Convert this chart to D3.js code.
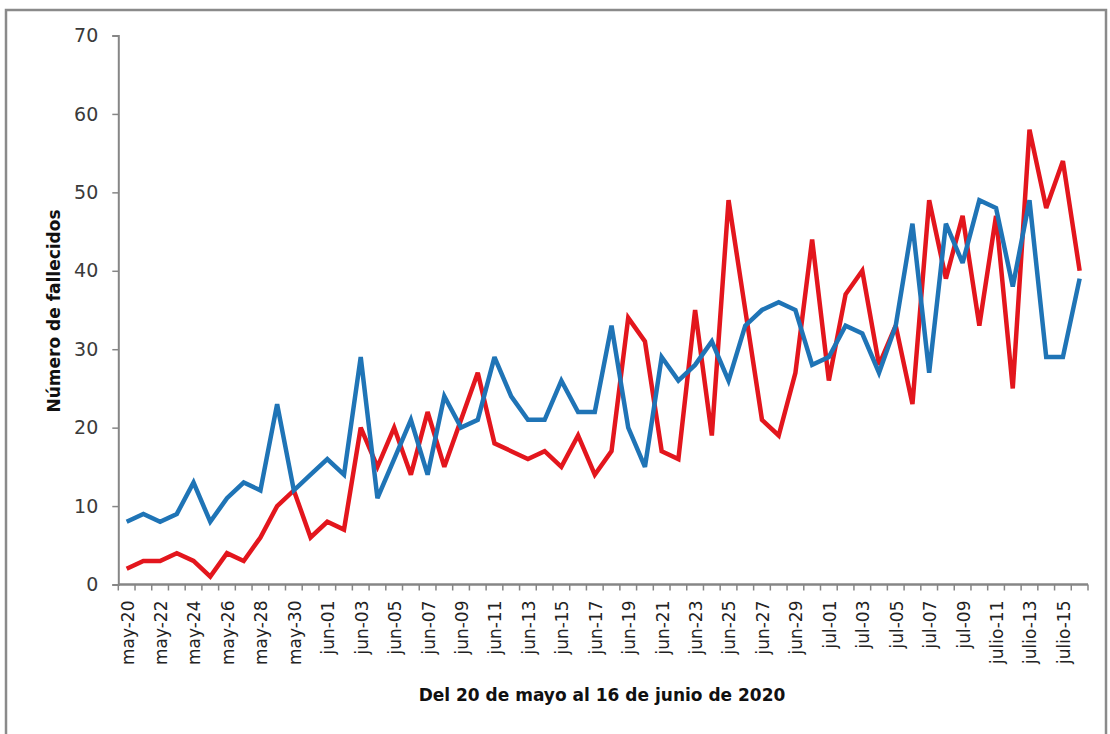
<!DOCTYPE html>
<html>
<head>
<meta charset="utf-8">
<script src="https://cdn.jsdelivr.net/npm/d3@7"></script>
<style>
  html, body { margin: 0; padding: 0; background: #ffffff; }
  svg { display: block; }
</style>
</head>
<body>
<svg id="chart" width="1110" height="734"></svg>
<script>
// ---- Data ----
const categories = [
  "may-20","may-21","may-22","may-23","may-24","may-25","may-26","may-27","may-28","may-29","may-30","may-31",
  "jun-01","jun-02","jun-03","jun-04","jun-05","jun-06","jun-07","jun-08","jun-09","jun-10",
  "jun-11","jun-12","jun-13","jun-14","jun-15","jun-16","jun-17","jun-18","jun-19","jun-20",
  "jun-21","jun-22","jun-23","jun-24","jun-25","jun-26","jun-27","jun-28","jun-29","jun-30",
  "jul-01","jul-02","jul-03","jul-04","jul-05","jul-06","jul-07","jul-08","jul-09","jul-10",
  "julio-11","julio-12","julio-13","julio-14","julio-15","julio-16"
];
const seriesRed = [
  2,3,3,4,3,1,4,3,6,10,
  12,6,8,7,20,15,20,14,22,15,
  21,27,18,17,16,17,15,19,14,17,
  34,31,17,16,35,19,49,35,21,19,
  27,44,26,37,40,28,33,23,49,39,
  47,33,47,25,58,48,54,40
];
const seriesBlue = [
  8,9,8,9,13,8,11,13,12,23,
  12,14,16,14,29,11,16,21,14,24,
  20,21,29,24,21,21,26,22,22,33,
  20,15,29,26,28,31,26,33,35,36,
  35,28,29,33,32,27,33,46,27,46,
  41,49,48,38,49,29,29,39
];
const yTicks = [0,10,20,30,40,50,60,70];
const yTitle = "Número de fallecidos";
const xTitle = "Del 20 de mayo al 16 de junio de 2020";

// ---- Layout ----
const svg = d3.select("#chart");
const plot = { left: 118.3, right: 1088, top: 35.5, bottom: 584.5 };
const axisColor = "#868686";

// outer frame
svg.append("rect")
  .attr("x", 6).attr("y", 10).attr("width", 1100).attr("height", 740)
  .attr("fill", "#ffffff").attr("stroke", "#8a8a8a").attr("stroke-width", 2.5);

const x = d3.scaleBand().domain(categories).range([plot.left, plot.right]).padding(0);
const y = d3.scaleLinear().domain([0, 70]).range([plot.bottom, plot.top]);
const cx = d => x(d) + x.bandwidth() / 2;

// Y axis
const yAxis = d3.axisLeft(y).tickValues(yTicks).tickSize(6).tickPadding(14).tickFormat(d3.format("d"));
const gy = svg.append("g").attr("transform", `translate(${plot.left},0)`).call(yAxis);
gy.select(".domain").attr("stroke", axisColor).attr("stroke-width", 2);
gy.selectAll(".tick line").attr("stroke", axisColor).attr("stroke-width", 1.5);
gy.selectAll(".tick text")
  .attr("font-family", "DejaVu Sans").attr("font-size", 19).attr("fill", "#3a3a3a");

// X axis (ticks at category boundaries)
const boundaries = categories.map(c => x(c)).concat([plot.right]);
const gx = svg.append("g");
gx.append("line")
  .attr("x1", plot.left).attr("x2", plot.right)
  .attr("y1", plot.bottom).attr("y2", plot.bottom)
  .attr("stroke", axisColor).attr("stroke-width", 2.5);
gx.selectAll("line.tk").data(boundaries).enter().append("line")
  .attr("class", "tk")
  .attr("x1", d => d).attr("x2", d => d)
  .attr("y1", plot.bottom).attr("y2", plot.bottom + 6)
  .attr("stroke", axisColor).attr("stroke-width", 1.5);

const labelled = categories.filter((c, i) => i % 2 === 0);
gx.selectAll("text.lbl").data(labelled).enter().append("text")
  .attr("class", "lbl")
  .attr("transform", d => `translate(${cx(d) + 1},${plot.bottom + 16}) rotate(-90)`)
  .attr("text-anchor", "end")
  .attr("dy", "0.35em")
  .attr("font-family", "DejaVu Sans")
  .attr("font-size", 17)
  .attr("fill", "#222")
  .text(d => d);

// Titles
svg.append("text")
  .attr("transform", `translate(60,311) rotate(-90)`)
  .attr("text-anchor", "middle")
  .attr("font-family", "DejaVu Sans").attr("font-weight", "bold").attr("font-size", 17)
  .attr("fill", "#111")
  .text(yTitle);

svg.append("text")
  .attr("x", 602).attr("y", 701)
  .attr("text-anchor", "middle")
  .attr("font-family", "DejaVu Sans").attr("font-weight", "bold").attr("font-size", 17)
  .attr("fill", "#111")
  .text(xTitle);

// Lines
const line = d3.line()
  .x((d, i) => cx(categories[i]))
  .y(d => y(d));

svg.append("path").datum(seriesRed)
  .attr("d", line).attr("fill", "none")
  .attr("stroke", "#e3161d").attr("stroke-width", 4.5)
  .attr("stroke-linejoin", "miter").attr("stroke-miterlimit", 3);

svg.append("path").datum(seriesBlue)
  .attr("d", line).attr("fill", "none")
  .attr("stroke", "#1f74b6").attr("stroke-width", 4.5)
  .attr("stroke-linejoin", "miter").attr("stroke-miterlimit", 3);
</script>
</body>
</html>
